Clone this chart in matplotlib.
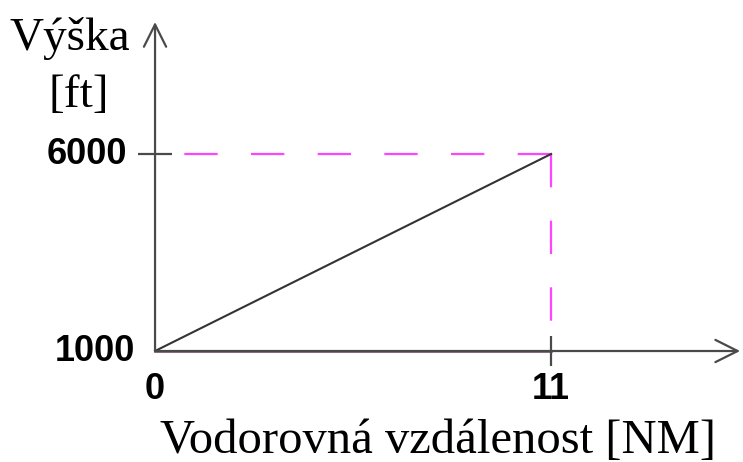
import numpy as np
import matplotlib
matplotlib.use('Agg')
import matplotlib.pyplot as plt

# values
dist = [0, 11]            # NM
alt = [1000, 6000]        # ft
x_ticks = [0, 11]
x_tick_labels = ['0', '11']
y_ticks = [1000, 6000]
y_tick_labels = ['1000', '6000']

fig = plt.figure(figsize=(7.43, 4.62), dpi=100)
ax = fig.add_axes([0, 0, 1, 1])
ax.set_xlim(-4.306, 16.33)
ax.set_ylim(-1817, 9909)
ax.axis('off')

axis_col = '#4a4a4a'
mag = '#ff44ff'

# axes with open arrow heads
ax.annotate('', xy=(16.25, alt[0]), xytext=(dist[0], alt[0]),
            arrowprops=dict(arrowstyle='->,head_length=0.8,head_width=0.4',
                            color=axis_col, lw=1.6, mutation_scale=20,
                            shrinkA=0, shrinkB=0))
ax.annotate('', xy=(dist[0], 9350), xytext=(dist[0], alt[0]),
            arrowprops=dict(arrowstyle='->,head_length=0.8,head_width=0.4',
                            color=axis_col, lw=1.6, mutation_scale=20,
                            shrinkA=0, shrinkB=0))

# helper dashed lines to the end point
ax.plot([dist[1], dist[0]], [alt[1], alt[1]], color=mag, lw=1.6,
        linestyle=(0, (15, 15)))
ax.plot([dist[1], dist[1]], [alt[1], alt[0]], color=mag, lw=1.6,
        linestyle=(0, (15, 15)))

# climb profile
ax.plot(dist, alt, color='#333333', lw=1.5)
ax.plot(dist, [alt[0], alt[0]], color='#6b3f6b', lw=1.8)

# ticks
ax.plot([x_ticks[0]], [y_ticks[1]], marker='_', markersize=24,
        markeredgewidth=1.6, color=axis_col)
ax.plot([x_ticks[1]], [y_ticks[0]], marker='|', markersize=22,
        markeredgewidth=1.6, color=axis_col)

num_font = dict(family='Liberation Sans', weight='bold', size=26)
ax.annotate(y_tick_labels[1], (x_ticks[0], y_ticks[1]), xytext=(-20, 0),
            textcoords='offset points', ha='right', va='center', **num_font)
ax.annotate(y_tick_labels[0], (x_ticks[0], y_ticks[0]), xytext=(-14, 0),
            textcoords='offset points', ha='right', va='center', **num_font)
ax.annotate(x_tick_labels[0], (x_ticks[0], y_ticks[0]), xytext=(0, -15),
            textcoords='offset points', ha='center', va='top', **num_font)
ax.annotate(x_tick_labels[1], (x_ticks[1], y_ticks[0]), xytext=(0, -15),
            textcoords='offset points', ha='center', va='top', **num_font)

lab_font = dict(family='Liberation Serif', size=34)
fig.text(70 / 743, 1 - 50 / 462, 'Výška', ha='center', va='baseline', **lab_font)
fig.text(79 / 743, 1 - 107 / 462, '[ft]', ha='center', va='baseline', **lab_font)
fig.text(438 / 743, 1 - 453 / 462, 'Vodorovná vzdálenost [NM]',
         ha='center', va='baseline', size=35, family='Liberation Serif')

fig.savefig('out.png', dpi=100, facecolor='white')
